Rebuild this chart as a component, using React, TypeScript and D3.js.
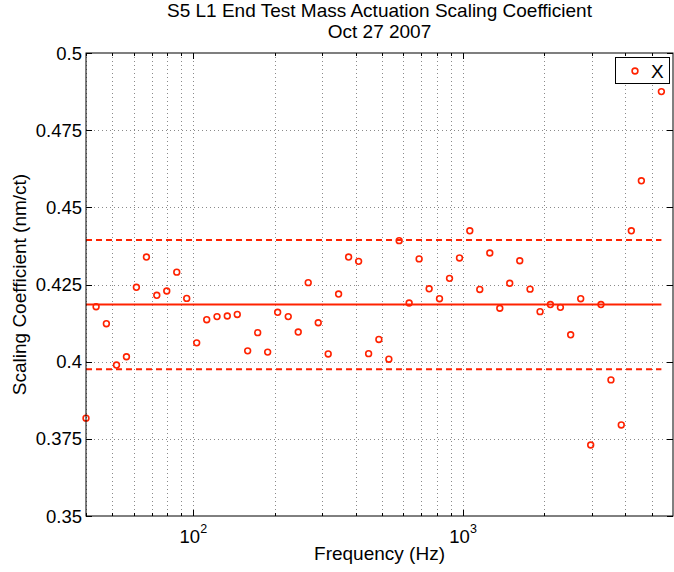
import React, { useRef, useEffect } from "react";
import * as d3 from "d3";

// measurement frequencies (Hz) and fitted scaling coefficients (nm/ct)
const freqs = [
  40, 43.6, 47.6, 51.9, 56.5, 61.5, 67.0, 73.2, 79.7, 86.8,
  94.5, 102.9, 112.1, 122.4, 133.6, 145.5, 159.0, 173.2, 188.6, 205.4,
  224.8, 244.8, 266.6, 290.4, 316.2, 345.5, 376.3, 409.9, 446.4, 487.3,
  530.7, 579.4, 631.0, 687.1, 748.4, 817.6, 890.6, 969.8, 1059, 1153,
  1256, 1368, 1489, 1622, 1771, 1929, 2107, 2295, 2505, 2729,
  2972, 3244, 3533, 3858, 4204, 4580, 5434,
];
const coeffs = [
  0.3817, 0.4178, 0.4123, 0.3989, 0.4016, 0.4241, 0.4339, 0.4215, 0.4229, 0.429,
  0.4205, 0.4061, 0.4136, 0.4146, 0.4148, 0.4153, 0.4035, 0.4094, 0.4031, 0.416,
  0.4146, 0.4096, 0.4256, 0.4126, 0.4025, 0.4219, 0.4339, 0.4325, 0.4026, 0.4072,
  0.4008, 0.4392, 0.419, 0.4333, 0.4236, 0.4204, 0.427, 0.4336, 0.4424, 0.4234,
  0.4352, 0.4173, 0.4254, 0.4327, 0.4235, 0.4162, 0.4185, 0.4176, 0.4087, 0.4204,
  0.373, 0.4185, 0.3941, 0.3795, 0.4424, 0.4586, 0.4875,
];
const meanValue = 0.4185;
const bandFraction = 0.05;

const yTicks = [0.35, 0.375, 0.4, 0.425, 0.45, 0.475, 0.5];
const yTickLabels = ["0.35", "0.375", "0.4", "0.425", "0.45", "0.475", "0.5"];
const xMajor = [100, 1000];
const xMajorExp = ["2", "3"];
const xMinor = [
  40, 50, 60, 70, 80, 90, 200, 300, 400, 500, 600, 700, 800, 900,
  2000, 3000, 4000, 5000,
];

const titleLines = ["S5 L1 End Test Mass Actuation Scaling Coefficient", "Oct 27 2007"];
const xLabel = "Frequency (Hz)";
const yLabel = "Scaling Coefficient (nm/ct)";
const legendLabel = "X";

export default function App() {
  const svgRef = useRef(null);
  const width = 674;
  const height = 572;

  useEffect(() => {
    const left = 86;
    const right = 673;
    const top = 53;
    const bottom = 516;
    const red = "#ff2200";
    const font = "'Liberation Sans', Arial, Helvetica, sans-serif";

    const x = d3.scaleLog().domain([40, 6000]).range([left, right]);
    const y = d3.scaleLinear().domain([0.35, 0.5]).range([bottom, top]);

    const svg = d3.select(svgRef.current);
    svg.selectAll("*").remove();
    svg.attr("font-family", font);

    svg.append("rect").attr("width", width).attr("height", height).attr("fill", "white");

    // grid
    const grid = svg.append("g").attr("stroke", "#8a8a8a").attr("stroke-width", 1)
      .attr("stroke-dasharray", "1,3");
    [...xMinor, ...xMajor].forEach((f) => {
      const px = Math.round(x(f)) + 0.5;
      grid.append("line").attr("x1", px).attr("x2", px).attr("y1", top).attr("y2", bottom);
    });
    yTicks.slice(1, -1).forEach((v) => {
      const py = Math.round(y(v)) + 0.5;
      grid.append("line").attr("x1", left).attr("x2", right).attr("y1", py).attr("y2", py);
    });

    // mean and +/- band lines
    const lineX1 = x(freqs[0]);
    const lineX2 = x(freqs[freqs.length - 1]);
    svg.append("line")
      .attr("x1", lineX1).attr("x2", lineX2)
      .attr("y1", y(meanValue)).attr("y2", y(meanValue))
      .attr("stroke", red).attr("stroke-width", 2);
    [meanValue * (1 + bandFraction), meanValue * (1 - bandFraction)].forEach((v) => {
      svg.append("line")
        .attr("x1", lineX1).attr("x2", lineX2)
        .attr("y1", y(v)).attr("y2", y(v))
        .attr("stroke", red).attr("stroke-width", 2)
        .attr("stroke-dasharray", "6,4");
    });

    // points
    svg.append("g")
      .selectAll("circle")
      .data(freqs)
      .join("circle")
      .attr("cx", (d) => x(d))
      .attr("cy", (_, i) => y(coeffs[i]))
      .attr("r", 2.9)
      .attr("fill", "none")
      .attr("stroke", red)
      .attr("stroke-width", 1.6);

    // frame
    svg.append("rect")
      .attr("x", left).attr("y", top)
      .attr("width", right - left).attr("height", bottom - top)
      .attr("fill", "none").attr("stroke", "black").attr("stroke-width", 1);

    // ticks
    const ticks = svg.append("g").attr("stroke", "black").attr("stroke-width", 1);
    xMinor.forEach((f) => {
      const px = Math.round(x(f)) + 0.5;
      ticks.append("line").attr("x1", px).attr("x2", px).attr("y1", bottom).attr("y2", bottom - 3);
      ticks.append("line").attr("x1", px).attr("x2", px).attr("y1", top).attr("y2", top + 3);
    });
    xMajor.forEach((f) => {
      const px = Math.round(x(f)) + 0.5;
      ticks.append("line").attr("x1", px).attr("x2", px).attr("y1", bottom).attr("y2", bottom - 6);
      ticks.append("line").attr("x1", px).attr("x2", px).attr("y1", top).attr("y2", top + 6);
    });
    yTicks.forEach((v) => {
      const py = Math.round(y(v)) + 0.5;
      ticks.append("line").attr("x1", left).attr("x2", left + 6).attr("y1", py).attr("y2", py);
      ticks.append("line").attr("x1", right).attr("x2", right - 6).attr("y1", py).attr("y2", py);
    });

    // y tick labels
    svg.append("g")
      .selectAll("text")
      .data(yTicks)
      .join("text")
      .attr("x", left - 4)
      .attr("y", (d) => y(d))
      .attr("dy", "0.36em")
      .attr("text-anchor", "end")
      .attr("font-size", 18.5)
      .text((_, i) => yTickLabels[i]);

    // x tick labels (10^n)
    xMajor.forEach((f, i) => {
      const t = svg.append("text")
        .attr("x", x(f))
        .attr("y", 543)
        .attr("text-anchor", "middle")
        .attr("font-size", 18.5);
      t.append("tspan").text("10");
      t.append("tspan").attr("font-size", 12.5).attr("dy", -10).text(xMajorExp[i]);
    });

    // axis labels
    svg.append("text")
      .attr("x", (left + right) / 2)
      .attr("y", 560)
      .attr("text-anchor", "middle")
      .attr("font-size", 19)
      .text(xLabel);

    svg.append("text")
      .attr("transform", `translate(26,${(top + bottom) / 2}) rotate(-90)`)
      .attr("text-anchor", "middle")
      .attr("font-size", 19)
      .text(yLabel);

    // title
    titleLines.forEach((s, i) => {
      svg.append("text")
        .attr("x", (left + right) / 2)
        .attr("y", 17 + i * 20.5)
        .attr("text-anchor", "middle")
        .attr("font-size", 19)
        .text(s);
    });

    // legend
    const lg = svg.append("g");
    lg.append("rect")
      .attr("x", 615.5).attr("y", 57.5)
      .attr("width", 54).attr("height", 26)
      .attr("fill", "white").attr("stroke", "black").attr("stroke-width", 1);
    lg.append("circle")
      .attr("cx", 635).attr("cy", 71)
      .attr("r", 2.9).attr("fill", "none")
      .attr("stroke", red).attr("stroke-width", 1.6);
    lg.append("text")
      .attr("x", 651).attr("y", 78)
      .attr("font-size", 19)
      .text(legendLabel);
  }, []);

  return (
    <svg
      ref={svgRef}
      width={width}
      height={height}
      style={{ position: "absolute", left: 0, top: 0, display: "block" }}
    ></svg>
  );
}
